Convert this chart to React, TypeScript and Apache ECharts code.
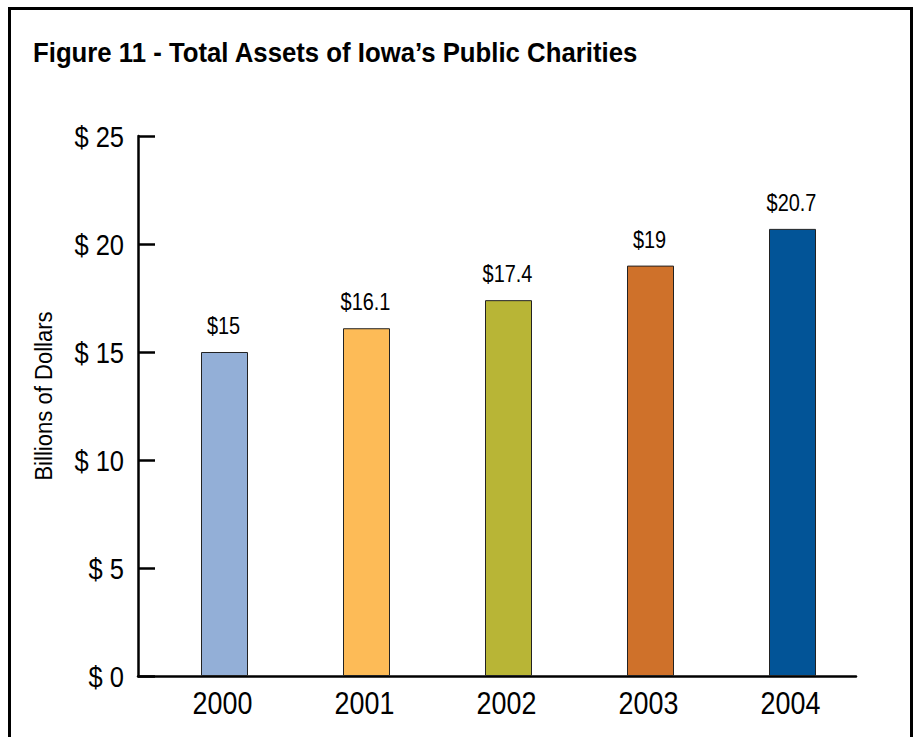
import React, { useEffect, useRef } from "react";
import * as echarts from "echarts";

const years = ["2000", "2001", "2002", "2003", "2004"];
const assets = [15, 16.1, 17.4, 19, 20.7];
const barColors = ["#93AFD7", "#FDBB57", "#B8B536", "#CF712A", "#025497"];
const yTicks = [0, 5, 10, 15, 20, 25];
const titleText = "Figure 11 - Total Assets of Iowa\u2019s Public Charities";
const yAxisName = "Billions of Dollars";

const FONT = "'Liberation Sans', Arial, sans-serif";

export default function App() {
  const ref = useRef<HTMLDivElement>(null);
  useEffect(() => {
    document.body.style.margin = "0";
    const chart = echarts.init(ref.current!, null, { renderer: "svg" });
    chart.setOption({
      animation: false,
      backgroundColor: "#fff",
      grid: [
        { left: 138, top: 136, width: 718, height: 540 },
        { left: 153.5, top: 136, width: 710, height: 540 },
      ],
      xAxis: [
        {
          type: "category",
          gridIndex: 0,
          data: years,
          boundaryGap: true,
          axisLine: { lineStyle: { color: "#000", width: 2.5 } },
          axisTick: { inside: true, length: 16, lineStyle: { color: "#000", width: 2.5 } },
          axisLabel: { show: false },
          splitLine: { show: false },
        },
        {
          type: "category",
          gridIndex: 1,
          data: years,
          axisLine: { show: false },
          axisTick: { show: false },
          axisLabel: { show: false },
        },
      ],
      yAxis: [
        {
          type: "value",
          gridIndex: 0,
          min: 0,
          max: 25,
          interval: 5,
          axisLine: { show: true, lineStyle: { color: "#000", width: 2.5 } },
          axisTick: { show: true, inside: true, length: 17, lineStyle: { color: "#000", width: 2.5 } },
          axisLabel: { show: false },
          splitLine: { show: false },
        },
        { type: "value", gridIndex: 1, min: 0, max: 25, interval: 5, show: false },
      ],
      series: [
        {
          type: "bar",
          xAxisIndex: 1,
          yAxisIndex: 1,
          data: assets.map((v, i) => ({ value: v, itemStyle: { color: barColors[i] } })),
          barWidth: 47,
          itemStyle: { borderColor: "#222", borderWidth: 1 },
        },
      ],
    });

    const graphics: any[] = [
      {
        type: "rect",
        shape: { x: 9.5, y: 8.5, width: 902, height: 800 },
        style: { fill: "none", stroke: "#000", lineWidth: 3 },
        z: 100,
        silent: true,
      },
      {
        type: "text",
        x: 33,
        y: 53,
        scaleX: 0.92,
        style: {
          text: titleText,
          font: `bold 28px ${FONT}`,
          fill: "#000",
          align: "left",
          verticalAlign: "middle",
        },
      },
      {
        type: "text",
        x: 44,
        y: 396,
        rotation: Math.PI / 2,
        scaleX: 0.92,
        style: {
          text: yAxisName,
          font: `24px ${FONT}`,
          fill: "#000",
          align: "center",
          verticalAlign: "middle",
        },
      },
    ];

    yTicks.forEach((v) => {
      const py = chart.convertToPixel({ yAxisIndex: 0 }, v) as number;
      graphics.push({
        type: "text",
        x: 124,
        y: py + 1,
        scaleX: 0.85,
        style: {
          text: `$ ${v}`,
          font: `30px ${FONT}`,
          fill: "#000",
          align: "right",
          verticalAlign: "middle",
        },
      });
    });

    years.forEach((yr, i) => {
      const px = chart.convertToPixel({ xAxisIndex: 1 }, yr) as number;
      graphics.push({
        type: "text",
        x: px - 2,
        y: 703,
        scaleX: 0.84,
        style: {
          text: yr,
          font: `32px ${FONT}`,
          fill: "#000",
          align: "center",
          verticalAlign: "middle",
        },
      });
      const [bx, by] = chart.convertToPixel({ xAxisIndex: 1, yAxisIndex: 1 }, [yr, assets[i]]) as number[];
      graphics.push({
        type: "text",
        x: bx - 1,
        y: by - 26,
        scaleX: 0.83,
        style: {
          text: `$${assets[i]}`,
          font: `24px ${FONT}`,
          fill: "#000",
          align: "center",
          verticalAlign: "middle",
        },
      });
    });

    chart.setOption({ graphic: graphics });
    return () => chart.dispose();
  }, []);
  return <div ref={ref} style={{ width: 918, height: 737 }} />;
}
